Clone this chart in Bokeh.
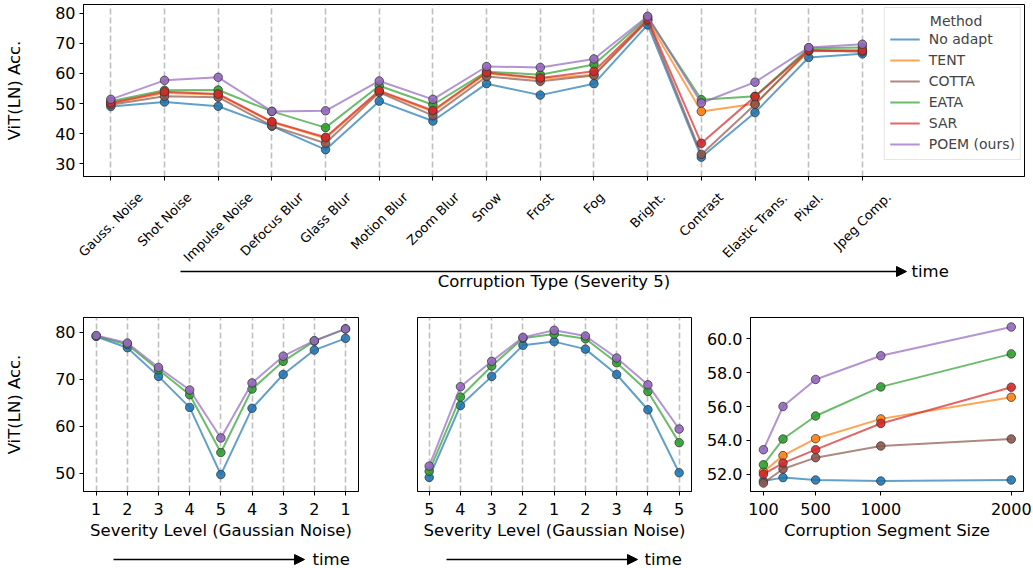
import math
from bokeh.plotting import figure
from bokeh.core.properties import value
from bokeh.models import (Range1d, FixedTicker, Legend, LegendItem, LabelSet, Label,
                          Arrow, NormalHead, ColumnDataSource, NumeralTickFormatter)
from bokeh.layouts import column, row
from bokeh.embed import file_html
from bokeh.resources import INLINE

# ---------------- data ----------------
methods = ["No adapt", "TENT", "COTTA", "EATA", "SAR", "POEM (ours)"]

corruptions = ["Gauss. Noise", "Shot Noise", "Impulse Noise", "Defocus Blur", "Glass Blur",
               "Motion Blur", "Zoom Blur", "Snow", "Frost", "Fog", "Bright.", "Contrast",
               "Elastic Trans.", "Pixel.", "Jpeg Comp."]
top_no_adapt = [49.0, 50.5, 49.1, 42.5, 34.7, 50.8, 44.2, 56.6, 52.8, 56.6, 76.1, 32.2, 47.0, 65.3, 66.5]
top_tent     = [50.0, 53.5, 53.0, 43.8, 38.5, 54.0, 47.3, 60.0, 58.2, 59.6, 77.8, 47.4, 49.9, 67.4, 67.5]
top_cotta    = [49.6, 52.4, 52.1, 42.6, 36.8, 53.7, 46.0, 59.0, 57.4, 59.3, 77.5, 33.1, 49.7, 67.6, 67.2]
top_eata     = [50.8, 54.4, 54.5, 47.4, 42.0, 55.9, 49.6, 60.6, 59.6, 63.0, 78.6, 51.3, 52.4, 68.4, 68.6]
top_sar      = [50.2, 53.9, 53.2, 44.0, 38.8, 54.3, 47.7, 60.3, 58.5, 60.7, 78.0, 36.8, 52.3, 67.8, 67.6]
top_poem     = [51.4, 57.7, 58.7, 47.4, 47.6, 57.5, 51.4, 62.3, 62.0, 64.8, 79.0, 50.2, 57.1, 68.6, 69.7]

sev_up_down_labels = ["1", "2", "3", "4", "5", "4", "3", "2", "1"]
sev1_no_adapt = [79.1, 76.7, 70.6, 64.0, 49.7, 63.8, 71.0, 76.2, 78.7]
sev1_eata     = [79.2, 77.4, 72.0, 66.7, 54.4, 67.9, 73.8, 78.1, 80.7]
sev1_poem     = [79.3, 77.7, 72.5, 67.7, 57.5, 69.2, 74.9, 78.2, 80.7]

sev_down_up_labels = ["5", "4", "3", "2", "1", "2", "3", "4", "5"]
sev2_no_adapt = [49.1, 64.4, 70.6, 77.2, 78.0, 76.4, 71.0, 63.5, 50.1]
sev2_eata     = [50.4, 66.2, 72.8, 78.7, 79.6, 78.6, 73.5, 67.4, 56.5]
sev2_poem     = [51.5, 68.4, 73.8, 78.9, 80.4, 79.2, 74.5, 68.8, 59.4]

segment_sizes = [100, 250, 500, 1000, 2000]
seg_no_adapt = [51.60, 51.80, 51.66, 51.60, 51.66]
seg_tent     = [52.15, 53.10, 54.10, 55.27, 56.55]
seg_cotta    = [51.48, 52.31, 52.98, 53.67, 54.08]
seg_eata     = [52.56, 54.08, 55.44, 57.16, 59.11]
seg_sar      = [52.00, 52.66, 53.45, 55.00, 57.14]
seg_poem     = [53.45, 56.00, 57.60, 59.00, 60.70]

# ---------------- style ----------------
FONT = "DejaVu Sans"
COLORS = {"No adapt": "#1f77b4", "TENT": "#ff7f0e", "COTTA": "#8c564b",
          "EATA": "#2ca02c", "SAR": "#d62728", "POEM (ours)": "#9467bd"}

# DejaVu Sans advance widths (em) for measuring rotated labels
DV = {' ': 0.318, '.': 0.318, 'a': 0.613, 'b': 0.635, 'c': 0.550, 'd': 0.635, 'e': 0.615,
      'f': 0.352, 'g': 0.635, 'h': 0.634, 'i': 0.278, 'j': 0.278, 'k': 0.579, 'l': 0.278,
      'm': 0.974, 'n': 0.634, 'o': 0.612, 'p': 0.635, 'q': 0.635, 'r': 0.411, 's': 0.521,
      't': 0.392, 'u': 0.634, 'v': 0.592, 'w': 0.818, 'x': 0.592, 'y': 0.592, 'z': 0.525,
      'B': 0.686, 'C': 0.698, 'D': 0.770, 'E': 0.632, 'F': 0.575, 'G': 0.775, 'I': 0.295,
      'J': 0.295, 'M': 0.863, 'N': 0.748, 'P': 0.603, 'S': 0.635, 'T': 0.611, 'Z': 0.685}


def style(p):
    p.background_fill_color = "white"
    p.border_fill_color = "white"
    p.outline_line_color = "black"
    p.outline_line_width = 1
    p.outline_line_alpha = 1
    p.ygrid.visible = False
    p.xgrid.visible = False
    for ax in p.axis:
        ax.axis_line_color = "black"
        ax.major_tick_line_color = "black"
        ax.major_tick_in = 0
        ax.major_tick_out = 4
        ax.minor_tick_line_color = None
        ax.major_label_text_font = FONT
        ax.major_label_text_font_size = "16px"
        ax.major_label_text_color = "black"
        ax.major_label_standoff = 4
        ax.axis_label_text_font = FONT
        ax.axis_label_text_font_size = "16.5px"
        ax.axis_label_text_font_style = "normal"
        ax.axis_label_text_color = "black"


def vgrid(p, ticks):
    p.xgrid.visible = True
    p.xgrid.ticker = FixedTicker(ticks=ticks)
    p.xgrid.grid_line_color = "#aaaaaa"
    p.xgrid.grid_line_alpha = 0.75
    p.xgrid.grid_line_width = 1.6
    p.xgrid.grid_line_dash = "6 3"


def series(p, xs, ys, color):
    r = p.line(xs, ys, line_color=color, line_width=2, line_alpha=0.7)
    p.scatter(xs, ys, size=8.5, fill_color=color, fill_alpha=0.9,
              line_color="#333333", line_alpha=0.75, line_width=1)
    return r


def canvas(width, height, xr, yr):
    c = figure(width=width, height=height, x_range=Range1d(*xr), y_range=Range1d(*yr),
               min_border=0, min_border_left=0, min_border_right=0, min_border_top=0,
               min_border_bottom=0, x_axis_type=None, y_axis_type=None,
               output_backend="svg", toolbar_location=None, tools="")
    c.outline_line_color = None
    c.background_fill_color = "white"
    c.border_fill_color = "white"
    return c


def head():
    return NormalHead(size=10, fill_color="black", line_color="black")


# ---------------- top panel ----------------
TX0, TX1 = -0.509, 17.02
TY0, TY1 = 25.78, 82.89
T_LEFT, T_FW, T_RIGHT_B = 83, 941, 9

top = figure(width=1033, height=184, x_range=Range1d(TX0, TX1), y_range=Range1d(TY0, TY1),
             min_border_left=T_LEFT, min_border_right=T_RIGHT_B, min_border_top=4,
             min_border_bottom=8, output_backend="svg", toolbar_location=None, tools="")
style(top)
xi = list(range(len(corruptions)))
top.xaxis.ticker = FixedTicker(ticks=xi)
top.xaxis.major_label_text_color = None
top.xaxis.major_label_text_font_size = "0px"
top.xaxis.major_label_standoff = 0
top.yaxis.ticker = FixedTicker(ticks=[30, 40, 50, 60, 70, 80])
top.yaxis.axis_label = "ViT(LN) Acc."
top.yaxis.axis_label_standoff = 28
vgrid(top, xi)

top_series = [top_no_adapt, top_tent, top_cotta, top_eata, top_sar, top_poem]
items = []
for m, ys in zip(methods, top_series):
    r = series(top, xi, ys, COLORS[m])
    items.append(LegendItem(label=m, renderers=[r]))

legend = Legend(items=items, location="top_right", margin=3, padding=5, spacing=1,
                label_height=20, glyph_height=20, glyph_width=30, label_standoff=9,
                title="\u00a0" * 9 + "Method", title_text_font=FONT, title_text_font_size="14px",
                title_text_font_style="normal", title_standoff=0,
                label_text_font=FONT, label_text_font_size="14px",
                border_line_color="#cccccc", border_line_width=1,
                background_fill_color="white", background_fill_alpha=0.8)
top.add_layout(legend)

# strip under the top panel: rotated category labels, axis title, time arrow
t_ppx = T_FW / (TX1 - TX0)
LXL = TX0 - T_LEFT / t_ppx
LXR = TX1 + T_RIGHT_B / t_ppx
strip = canvas(1033, 114, (LXL, LXR), (298, 184))   # y in page pixels (flipped)


def tx(px):
    return LXL + px / t_ppx


FS = 13
hh = 1.164 * FS
lab_y = []
for lab in corruptions:
    w = FS * sum(DV.get(c, 0.6) for c in lab)
    bb = (w + hh) * math.sqrt(0.5)
    lab_y.append(189 + bb / 2)
src = ColumnDataSource(dict(x=xi, y=lab_y, text=corruptions))
strip.add_layout(LabelSet(x="x", y="y", text="text", source=src, angle=math.pi / 4,
                          text_align="center", text_baseline="middle",
                          text_font=value(FONT), text_font_size=value(f"{FS}px"),
                          text_color="black"))
strip.add_layout(Label(x=tx(553.5), y=281, text="Corruption Type (Severity 5)",
                       text_align="center", text_baseline="middle", text_font=FONT,
                       text_font_size="16.5px", text_color="black"))
strip.add_layout(Arrow(end=head(), x_start=tx(180), y_start=271, x_end=tx(906), y_end=271,
                       line_width=1.5, line_color="black"))
strip.add_layout(Label(x=tx(911), y=271, text="time", text_align="left",
                       text_baseline="middle", text_font=FONT, text_font_size="16.5px",
                       text_color="black"))

# ---------------- bottom panels ----------------
BY0, BY1 = 46.1, 83.13
si = list(range(9))


def bottom_fig(width, bl, br, xr, yr):
    p = figure(width=width, height=247, x_range=Range1d(*xr), y_range=Range1d(*yr),
               min_border_left=bl, min_border_right=br, min_border_top=19, min_border_bottom=54,
               output_backend="svg", toolbar_location=None, tools="")
    style(p)
    p.xaxis.major_label_standoff = 7
    p.xaxis.axis_label_standoff = 3
    return p


# left
p1 = bottom_fig(388, 83, 30, (-0.408, 8.417), (BY0, BY1))
p1.xaxis.ticker = FixedTicker(ticks=si)
p1.xaxis.major_label_overrides = {i: s for i, s in zip(si, sev_up_down_labels)}
p1.xaxis.axis_label = "Severity Level (Gaussian Noise)"
p1.yaxis.ticker = FixedTicker(ticks=[50, 60, 70, 80])
p1.yaxis.axis_label = "ViT(LN) Acc."
p1.yaxis.axis_label_standoff = 28
vgrid(p1, si)
for m, ys in zip(["No adapt", "EATA", "POEM (ours)"], [sev1_no_adapt, sev1_eata, sev1_poem]):
    series(p1, si, ys, COLORS[m])

# middle
p2 = bottom_fig(315, 29, 12, (-0.375, 8.395), (BY0, BY1))
p2.xaxis.ticker = FixedTicker(ticks=si)
p2.xaxis.major_label_overrides = {i: s for i, s in zip(si, sev_down_up_labels)}
p2.xaxis.axis_label = "Severity Level (Gaussian Noise)"
p2.yaxis.visible = False
vgrid(p2, si)
for m, ys in zip(["No adapt", "EATA", "POEM (ours)"], [sev2_no_adapt, sev2_eata, sev2_poem]):
    series(p2, si, ys, COLORS[m])

# right
p3 = bottom_fig(330, 46, 10, (0.7, 2094), (50.98, 61.26))
p3.xaxis.ticker = FixedTicker(ticks=[100, 500, 1000, 2000])
p3.xaxis.axis_label = "Corruption Segment Size"
p3.yaxis.ticker = FixedTicker(ticks=[52, 54, 56, 58, 60])
p3.yaxis.formatter = NumeralTickFormatter(format="0.0")
for m, ys in zip(methods, [seg_no_adapt, seg_tent, seg_cotta, seg_eata, seg_sar, seg_poem]):
    series(p3, segment_sizes, ys, COLORS[m])

# strip with the two time arrows (x, y in page pixels)
arrows = canvas(1033, 23, (0, 1033), (568, 545))
for x0, x1, xt in [(113, 304, 312), (446, 637, 644)]:
    arrows.add_layout(Arrow(end=head(), x_start=x0, y_start=559, x_end=x1, y_end=559,
                            line_width=1.5, line_color="black"))
    arrows.add_layout(Label(x=xt, y=559, text="time", text_align="left",
                            text_baseline="middle", text_font=FONT, text_font_size="16.5px",
                            text_color="black"))

layout = column(row(top), row(strip), row(p1, p2, p3), row(arrows))
open("out.html", "w").write(file_html(layout, INLINE))
